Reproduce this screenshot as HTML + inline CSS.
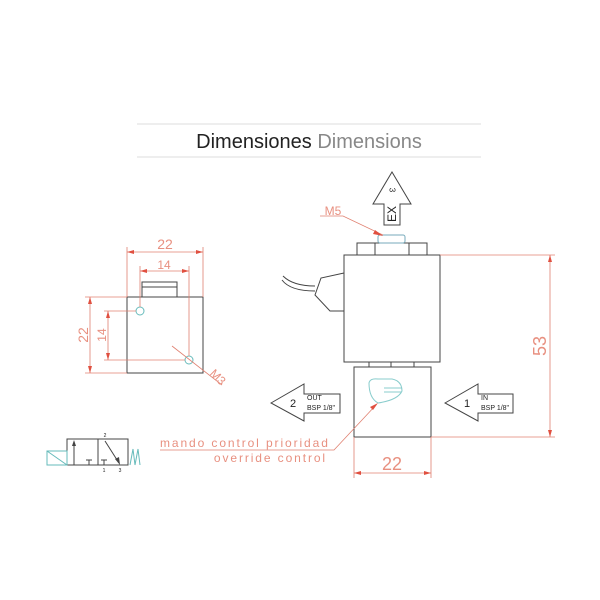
<!DOCTYPE html>
<html><head><meta charset="utf-8"><style>
html,body{margin:0;padding:0;background:#fff;}
svg{display:block;}
</style></head><body>
<svg width="600" height="600" viewBox="0 0 600 600" xmlns="http://www.w3.org/2000/svg">
<line x1="137" y1="124" x2="481" y2="124" stroke="#ddd" stroke-width="1"/>
<line x1="137" y1="157" x2="481" y2="157" stroke="#ddd" stroke-width="1"/>
<text x="309" y="148" text-anchor="middle" font-family="Liberation Sans, sans-serif" font-size="20" fill="#222">Dimensiones <tspan fill="#888">Dimensions</tspan></text>

<g fill="none" stroke="#444" stroke-width="1">
<rect x="127" y="297" width="76" height="76"/>
<polyline points="142,297 142,282 177,282 177,297"/>
<line x1="142" y1="287" x2="177" y2="287"/>
<rect x="344" y="255" width="96" height="107"/>
<rect x="357" y="243" width="70" height="12"/>
<line x1="375" y1="243" x2="375" y2="255"/><line x1="409" y1="243" x2="409" y2="255"/>
<line x1="355" y1="255" x2="430" y2="255"/>
<rect x="369" y="362" width="45" height="5"/>
<line x1="391" y1="362" x2="391" y2="367"/>
<rect x="354" y="367" width="77" height="70"/>
<polyline points="344,273 321,278 315,295 330,311 344,311"/>
<path d="M315,286 C300,286 290,283 283,276"/>
<path d="M315,291 C300,291 288,288 282,280"/>
<polygon points="392,172 411,204 400,204 400,225 384,225 384,204 373,204"/>
<polygon points="271,403 304,384 304,394 340,394 340,413 304,413 304,421"/>
<polygon points="445,403 478,384 478,394 513,394 513,413 478,413 478,421"/>
<rect x="67" y="439" width="61" height="26"/>
<line x1="98" y1="439" x2="98" y2="465"/>
<line x1="74" y1="465" x2="74" y2="444"/>
<line x1="86" y1="460" x2="92" y2="460"/><line x1="89" y1="460" x2="89" y2="465"/>
<line x1="101" y1="460" x2="107" y2="460"/><line x1="104" y1="460" x2="104" y2="465"/>
<line x1="105" y1="441" x2="119" y2="463"/>
</g>
<polygon points="74,440 72,446 76,446" fill="#444"/>
<polygon points="120,465 115,459 119,457" fill="#444"/>
<rect x="378" y="235" width="27" height="8" rx="2" fill="none" stroke="#7ab" stroke-width="1"/>
<g fill="none" stroke="#6bb" stroke-width="1">
<rect x="47" y="451" width="20" height="14"/>
<line x1="47" y1="451" x2="67" y2="465"/>
<polyline points="130,465 133,449 135,465 138,449 140,465"/>
<path d="M369,383 Q370,378 378,379 L392,379 Q402,381 402,391 Q398,400 378,403 Q369,398 369,383 Z" stroke="#8cc"/>
<line x1="384" y1="388" x2="402" y2="388" stroke="#8cc"/>
<line x1="384" y1="392" x2="401" y2="392" stroke="#8cc"/>
<circle cx="140" cy="311" r="4"/>
<circle cx="189" cy="360" r="4"/>
</g>
<g font-family="Liberation Sans, sans-serif" fill="#222">
<text x="392" y="190" font-size="8" transform="rotate(90 392 190)" text-anchor="middle" dominant-baseline="central">3</text>
<text x="392" y="214" font-size="12" transform="rotate(-90 392 214)" text-anchor="middle" dominant-baseline="central">EX</text>
<text x="293" y="407" font-size="11" text-anchor="middle">2</text>
<text x="307" y="400" font-size="7">OUT</text>
<text x="307" y="410" font-size="7">BSP 1/8"</text>
<text x="467" y="407" font-size="11" text-anchor="middle">1</text>
<text x="481" y="400" font-size="7">IN</text>
<text x="481" y="410" font-size="7">BSP 1/8"</text>
<text x="105" y="437" font-size="5" text-anchor="middle">2</text>
<text x="104" y="472" font-size="5" text-anchor="middle">1</text>
<text x="120" y="472" font-size="5" text-anchor="middle">3</text>
</g>
<g stroke="#e08070" stroke-width="0.8" fill="none">
<line x1="127" y1="297" x2="127" y2="247"/><line x1="203" y1="297" x2="203" y2="247"/>
<line x1="127" y1="252" x2="203" y2="252"/>
<line x1="140" y1="307" x2="140" y2="266"/><line x1="189" y1="356" x2="189" y2="266"/>
<line x1="140" y1="271" x2="189" y2="271"/>
<line x1="127" y1="297" x2="85" y2="297"/><line x1="127" y1="373" x2="85" y2="373"/>
<line x1="90" y1="297" x2="90" y2="373"/>
<line x1="136" y1="311" x2="104" y2="311"/><line x1="185" y1="360" x2="104" y2="360"/>
<line x1="108" y1="311" x2="108" y2="360"/>
<line x1="172" y1="346" x2="222" y2="385"/>
<line x1="440" y1="255" x2="555" y2="255"/><line x1="431" y1="437" x2="555" y2="437"/>
<line x1="550" y1="255" x2="550" y2="437"/>
<line x1="354" y1="437" x2="354" y2="478"/><line x1="431" y1="437" x2="431" y2="478"/>
<line x1="354" y1="473" x2="431" y2="473"/>
<polyline points="320,216 343,216 383,235"/>
<polyline points="160,450 334,450 376,405"/>
</g>
<g fill="#e05040">
<polygon points="127,252 134,250 134,254"/><polygon points="203,252 196,250 196,254"/>
<polygon points="140,271 147,269 147,273"/><polygon points="189,271 182,269 182,273"/>
<polygon points="90,297 88,304 92,304"/><polygon points="90,373 88,366 92,366"/>
<polygon points="108,311 106,318 110,318"/><polygon points="108,360 106,353 110,353"/>
<polygon points="550,255 548,262 552,262"/><polygon points="550,437 548,430 552,430"/>
<polygon points="354,473 361,471 361,475"/><polygon points="431,473 424,471 424,475"/>
<polygon points="383,236 375,230 373,234"/>
<polygon points="378,403 370,407 373,410"/>
</g>
<g font-family="Liberation Sans, sans-serif" fill="#e89080">
<text x="165" y="249" font-size="14" text-anchor="middle">22</text>
<text x="164" y="269" font-size="12" text-anchor="middle">14</text>
<text x="88" y="335" font-size="14" text-anchor="middle" transform="rotate(-90 88 335)">22</text>
<text x="106" y="335" font-size="12" text-anchor="middle" transform="rotate(-90 106 335)">14</text>
<text x="215" y="380" font-size="12" text-anchor="middle" transform="rotate(45 215 380)">M3</text>
<text x="333" y="215" font-size="12" text-anchor="middle">M5</text>
<text x="546" y="346" font-size="18" text-anchor="middle" transform="rotate(-90 546 346)">53</text>
<text x="392" y="470" font-size="18" text-anchor="middle">22</text>
<text x="160" y="447" font-size="12" letter-spacing="1.9">mando control prioridad</text>
<text x="327" y="462" font-size="12" text-anchor="end" letter-spacing="1.9">override control</text>
</g>
</svg>
</body></html>
